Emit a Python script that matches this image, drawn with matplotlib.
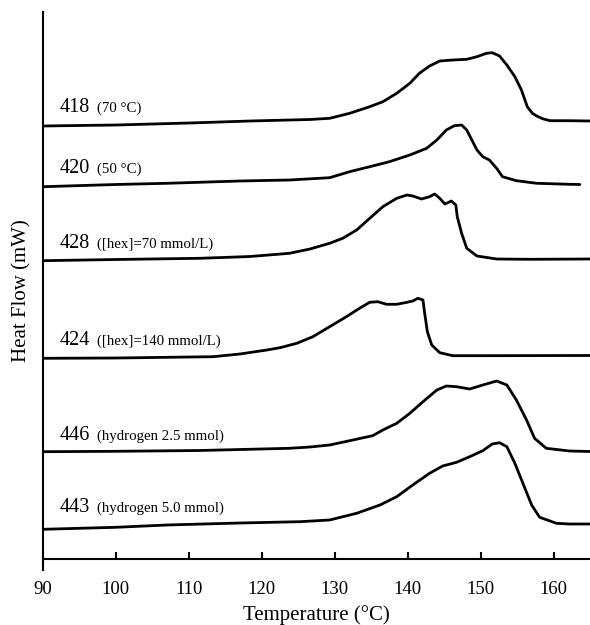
import matplotlib
matplotlib.use("Agg")
import matplotlib.pyplot as plt

plt.rcParams['font.family'] = ['Liberation Serif', 'DejaVu Serif']

# DSC traces (temperature in degC, heat flow with stacking offset)
t_418 = [90, 100, 110.1, 118.4, 123.8, 126.6, 129.3, 132.05, 134.8, 136.6, 138.5, 140.3,
         141.6, 143.0, 144.4, 146.2, 148.1, 149.5, 150.8, 151.6, 152.6, 153.6, 154.7,
         155.6, 156.4, 157.1, 157.7, 158.5, 159.5, 162.2, 165]
h_418 = [43.3, 43.4, 43.6, 43.8, 43.9, 43.95, 44.07, 44.57, 45.23, 45.73, 46.57, 47.57,
         48.57, 49.3, 49.8, 49.9, 49.97, 50.23, 50.57, 50.63, 50.3, 49.4, 48.23,
         46.9, 45.23, 44.57, 44.3, 44.03, 43.83, 43.83, 43.8]

t_420 = [90, 100, 107, 117, 123.8, 129.3, 132.05, 134.8, 137.5, 140.3, 142.6, 144.0,
         145.3, 146.4, 147.4, 148.1, 148.8, 149.5, 150.3, 151.2, 152.2, 153.0, 154.9,
         157.7, 162.2, 163.6]
h_420 = [37.23, 37.45, 37.57, 37.8, 37.9, 38.13, 38.73, 39.23, 39.73, 40.4, 41.07, 41.9,
         42.9, 43.33, 43.4, 42.9, 41.9, 40.9, 40.23, 39.9, 39.07, 38.23, 37.83,
         37.57, 37.47, 37.45]

t_428 = [90, 100, 111.5, 118.4, 123.8, 126.6, 129.3, 131.1, 133.0, 134.8, 136.6, 138.5,
         139.9, 140.7, 141.9, 143.0, 143.7, 144.4, 145.1, 146.0, 146.6, 146.8, 147.4,
         148.1, 149.5, 152.2, 156.7, 165]
h_428 = [29.83, 29.95, 30.07, 30.25, 30.57, 31.0, 31.57, 32.07, 32.9, 34.07, 35.23, 36.07,
         36.4, 36.3, 36.0, 36.23, 36.5, 36.07, 35.5, 35.8, 35.4, 34.23, 32.57,
         31.07, 30.3, 30.0, 29.97, 30.0]

t_424 = [90, 100, 113.3, 117.0, 120.7, 122.5, 124.8, 127.0, 129.3, 131.6, 133.4, 134.8,
         135.9, 137.1, 138.5, 139.9, 140.7, 141.4, 142.1, 142.3, 142.7, 143.3, 144.4,
         146.2, 149.9, 165]
h_424 = [20.07, 20.1, 20.23, 20.5, 20.9, 21.13, 21.57, 22.23, 23.23, 24.23, 25.07, 25.67,
         25.73, 25.47, 25.47, 25.67, 25.8, 26.07, 25.9, 24.73, 22.73, 21.4, 20.63,
         20.33, 20.33, 20.35]

t_446 = [90, 100, 111.5, 123.8, 126.6, 129.3, 132.05, 135.2, 136.6, 138.5, 140.3, 142.1,
         144.0, 145.3, 146.7, 148.5, 150.3, 152.2, 153.6, 154.9, 156.3, 157.4, 159.0,
         162.2, 165]
h_446 = [10.73, 10.77, 10.85, 11.07, 11.2, 11.4, 11.83, 12.33, 12.9, 13.57, 14.57, 15.73,
         16.9, 17.3, 17.23, 17.0, 17.4, 17.8, 17.4, 15.9, 13.9, 12.07, 11.07,
         10.8, 10.75]

t_443 = [90, 100, 107.0, 117.0, 125.2, 129.3, 133.0, 136.2, 138.5, 140.7, 143.0, 144.8,
         146.7, 148.5, 150.3, 151.6, 152.6, 153.6, 154.7, 155.8, 157.0, 158.1, 160.4,
         162.2, 165]
h_443 = [2.97, 3.17, 3.4, 3.6, 3.73, 3.9, 4.57, 5.4, 6.23, 7.4, 8.57, 9.3,
         9.67, 10.23, 10.83, 11.5, 11.63, 11.23, 9.57, 7.57, 5.4, 4.17, 3.57,
         3.5, 3.5]

sample_ids = ['418', '420', '428', '424', '446', '443']
conditions = ['(70 \u00b0C)', '(50 \u00b0C)', '([hex]=70 mmol/L)', '([hex]=140 mmol/L)',
              '(hydrogen 2.5 mmol)', '(hydrogen 5.0 mmol)']
label_y = [44.73, 38.6, 31.1, 21.4, 11.9, 4.7]

curves = [(t_418, h_418), (t_420, h_420), (t_428, h_428),
          (t_424, h_424), (t_446, h_446), (t_443, h_443)]

fig = plt.figure(figsize=(5.9, 6.25), dpi=100)
# left spine runs a little below the x axis line, as in the original
ax = fig.add_axes([43/590, (625 - 570)/625, 1 - 43/590, (570 - 12)/625])

for (t, h) in curves:
    ax.plot(t, h, color='black', lw=2.0, solid_capstyle='round', solid_joinstyle='round')

for sid, cond, y in zip(sample_ids, conditions, label_y):
    ax.text(92.3, y, sid, fontsize=14.5, ha='left', va='baseline')
    ax.text(97.4, y, cond, fontsize=10.7, ha='left', va='baseline')

ax.set_xlim(90, 165)
ax.set_ylim(-1.1, 54.7)
ax.set_xticks(range(90, 161, 10))
ax.set_yticks([])
ax.spines['top'].set_visible(False)
ax.spines['right'].set_visible(False)
ax.spines['bottom'].set_position(('data', 0))
ax.spines['bottom'].set_linewidth(1.5)
ax.spines['left'].set_linewidth(1.5)
ax.tick_params(axis='x', direction='in', length=5, width=1.5, pad=16, labelsize=13.5)
ax.set_xlabel('Temperature (\u00b0C)', fontsize=15, labelpad=5)
ax.set_ylabel('Heat Flow (mW)', fontsize=15, labelpad=8)

fig.savefig('out.png', dpi=100)
